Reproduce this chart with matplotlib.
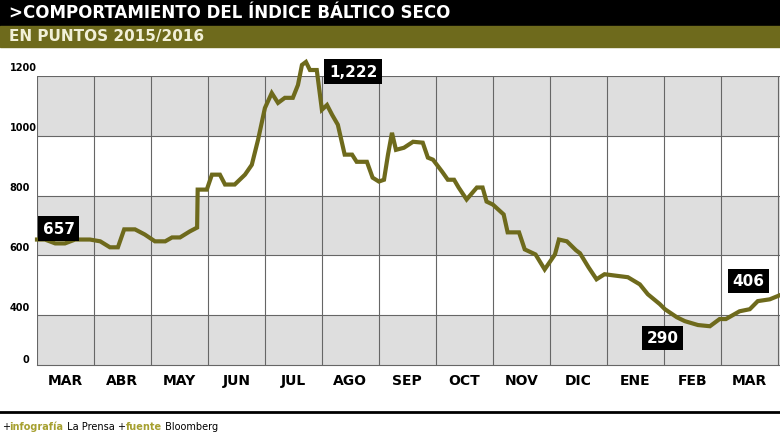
import matplotlib.pyplot as plt
import numpy as np

# pixel-read trace, x in months since 1 Mar 2015
month_x = [0.0, 0.14, 0.32, 0.49, 0.67, 0.93, 1.11, 1.28, 1.42, 1.53, 1.72, 1.89, 2.07, 2.25, 2.37, 2.51, 2.68, 2.81,
           2.82, 2.98, 3.07, 3.21, 3.30, 3.47, 3.65, 3.77, 3.88, 4.00, 4.12, 4.23, 4.35, 4.49, 4.58, 4.65, 4.72, 4.79,
           4.91, 5.00, 5.09, 5.18, 5.28, 5.40, 5.53, 5.61, 5.79, 5.89, 6.00, 6.09, 6.16, 6.23, 6.30, 6.44, 6.60, 6.77,
           6.86, 6.95, 7.11, 7.21, 7.32, 7.40, 7.54, 7.72, 7.82, 7.89, 8.00, 8.19, 8.26, 8.46, 8.56, 8.75, 8.91, 9.09,
           9.16, 9.30, 9.46, 9.53, 9.68, 9.82, 9.96, 10.12, 10.37, 10.58, 10.72, 10.93, 11.02, 11.23, 11.37, 11.60,
           11.81, 11.98, 12.09, 12.33, 12.51, 12.65, 12.86, 13.04]
bdi = [653, 653, 640, 640, 653, 653, 647, 627, 627, 687, 687, 670, 647, 647, 660, 660, 680, 693,
       820, 820, 870, 870, 837, 837, 870, 903, 987, 1093, 1143, 1110, 1127, 1127, 1170, 1237, 1247, 1220,
       1220, 1087, 1103, 1070, 1037, 937, 937, 913, 913, 860, 847, 853, 937, 1010, 953, 960, 980, 977,
       927, 920, 880, 853, 853, 827, 787, 827, 827, 780, 770, 737, 677, 677, 620, 603, 553, 603,
       653, 647, 617, 607, 560, 520, 537, 533, 527, 503, 470, 437, 420, 393, 380, 367, 363, 387,
       387, 413, 420, 447, 453, 467]
months = ['MAR', 'ABR', 'MAY', 'JUN', 'JUL', 'AGO', 'SEP', 'OCT', 'NOV', 'DIC', 'ENE', 'FEB', 'MAR']
y_labels = ['1200', '1000', '800', '600', '400']
y_ticks = [1200, 1000, 800, 600, 400]
notes = [('657', 0.0, 690), ('1,222', 5.17, 1215), ('290', 10.6, 325), ('406', 12.1, 515)]

olive = '#6e6a1c'
fig = plt.figure(figsize=(7.8, 4.39), dpi=100)
fig.patch.set_facecolor('white')

# header bars
fig.patches.append(plt.Rectangle((0, 1 - 27 / 439), 1, 27 / 439, transform=fig.transFigure, color='black'))
fig.patches.append(plt.Rectangle((0, 1 - 48 / 439), 1, 21 / 439, transform=fig.transFigure, color=olive))
fam = ['DejaVu Sans']
fig.text(0.012, 1 - 13 / 439, '>COMPORTAMIENTO DEL ÍNDICE BÁLTICO SECO', color='white', fontsize=12,
         weight='bold', va='center', family=fam)
fig.text(0.012, 1 - 37 / 439, 'EN PUNTOS 2015/2016', color='#f2f0d8', fontsize=11, weight='bold',
         va='center', family=fam)

ax = fig.add_axes([37 / 780, 1 - 366 / 439, 743 / 780, 289 / 439])
lo = 400 - 50 / 0.3
ax.set_xlim(0, 13.04)
ax.set_ylim(lo, 1200)
for i, (a, b) in enumerate([(1000, 1200), (800, 1000), (600, 800), (400, 600), (lo, 400)]):
    ax.axhspan(a, b, color='#dedede' if i % 2 == 0 else 'white', zorder=0, lw=0)
for v in y_ticks:
    ax.axhline(v, color='#666666', lw=0.8, zorder=1)
for m in range(14):
    ax.axvline(m, color='#666666', lw=0.8, zorder=1)
ax.plot(month_x, bdi, color=olive, lw=3, zorder=3, clip_on=False, solid_joinstyle='miter')
ax.set_xticks([])
ax.set_yticks([])
for s in ax.spines.values():
    s.set_visible(False)
ax.spines['bottom'].set_visible(True)
ax.spines['bottom'].set_color('#666666')

for lab, v in zip(y_labels, y_ticks):
    ax.text(-0.48, v + 12, lab, fontsize=7, weight='bold', family=fam, va='bottom', ha='left', clip_on=False)
ax.text(-0.2, lo + 5, '0', fontsize=7, weight='bold', family=fam, va='bottom', ha='center', clip_on=False)
for i, m in enumerate(months):
    ax.text(i + 0.5, lo - 50, m, fontsize=10, weight='bold', family=fam, ha='center', va='center', clip_on=False)

for t, x, v in notes:
    ax.text(x + 0.38, v, t, color='white', fontsize=11, weight='bold', family=fam, ha='center', va='center',
            zorder=5, clip_on=False,
            bbox=dict(boxstyle='square,pad=0.3', fc='black', ec='none'))

fig.add_artist(plt.Line2D([0, 1], [1 - 413 / 439] * 2, color='black', lw=2, transform=fig.transFigure))
# footer as chained pieces
parts = [('+', 'black', 'normal'), ('infografía', '#a6a030', 'bold'), (' La Prensa ', 'black', 'normal'),
         ('+', 'black', 'normal'), ('fuente', '#a6a030', 'bold'), (' Bloomberg', 'black', 'normal')]
prev = fig.text(0.002, 1 - 427 / 439, parts[0][0], fontsize=7, va='center', family=fam)
for txt, col, wt in parts[1:]:
    prev = fig.text(0, 0, txt, fontsize=7, color=col, weight=wt, family=fam, va='center',
                    transform=prev.get_transform())
    prev.set_position((0, 0))
fig.canvas.draw()
# place sequentially
x = 0.002
for t in fig.texts[2:]:
    t.set_position((x, 1 - 427 / 439))
    t.set_transform(fig.transFigure)
    fig.canvas.draw()
    bb = t.get_window_extent()
    x += bb.width / fig.bbox.width

fig.savefig('out.png', dpi=100)
